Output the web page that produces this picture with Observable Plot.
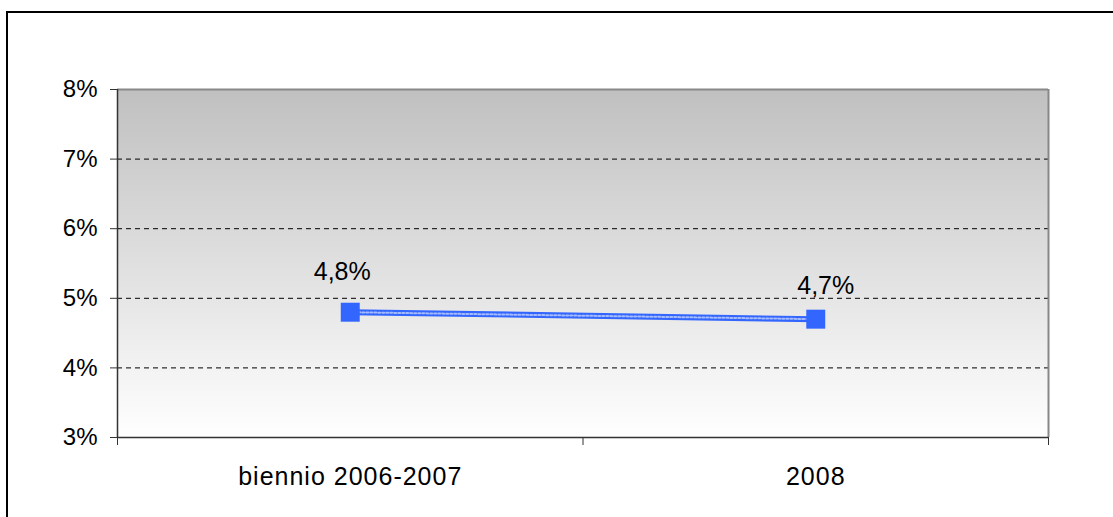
<!DOCTYPE html>
<html><head>
<meta charset="utf-8">
<script src="https://cdn.jsdelivr.net/npm/d3@7"></script>
<script src="https://cdn.jsdelivr.net/npm/@observablehq/plot@0.6"></script>
<style>
html,body{margin:0;padding:0;overflow:hidden;background:#fff;width:1113px;height:517px}
#wrap{position:relative;width:1113px;height:517px}
#chart{position:absolute;left:0;top:0}
#border{position:absolute;left:6px;top:11px;width:1200px;height:600px;border-left:2px solid #000;border-top:2px solid #000;z-index:2;pointer-events:none}
</style></head><body>
<div id="wrap"><div id="chart"></div><div id="border"></div></div>
<script>
const categories = ["biennio 2006-2007", "2008"];
const values = [4.8, 4.7];
const valueLabels = ["4,8%", "4,7%"];
const yTicks = [3, 4, 5, 6, 7, 8];
const gridTicks = [4, 5, 6, 7];
const boundaries = [0, 1, 2];

const data = categories.map((c, i) => ({pos: i + 0.5, cat: c, v: values[i], label: valueLabels[i]}));

const blue = "#3366ff";
const svg = Plot.plot({
  width: 1113,
  height: 517,
  marginLeft: 117,
  marginRight: 65,
  marginTop: 89,
  marginBottom: 80,
  style: {fontFamily: "'Liberation Sans', Arial, sans-serif", fontSize: "24px", color: "#000", background: "transparent"},
  x: {domain: [0, 2], label: null},
  y: {domain: [3, 8], label: null},
  marks: [
    Plot.frame({fill: "url(#bg)", stroke: "none"}),
    Plot.ruleY(gridTicks, {stroke: "#000", strokeWidth: 1, strokeDasharray: "5,4"}),
    Plot.ruleY([8], {stroke: "#888", strokeWidth: 2}),
    Plot.ruleX([2], {stroke: "#888", strokeWidth: 2}),
    Plot.ruleX([0], {stroke: "#333", strokeWidth: 1.5}),
    Plot.ruleY([3], {stroke: "#333", strokeWidth: 1.5}),
    Plot.axisY(yTicks, {tickSize: 7, tickPadding: 13, tickFormat: d => d + "%", stroke: "#333", fontSize: 24, label: null}),
    Plot.axisX(boundaries, {tickSize: 8, tickFormat: () => "", stroke: "#333", label: null}),
    Plot.axisX(data.map(d => d.pos), {tickSize: 0, tickPadding: 30, tickFormat: p => categories[Math.floor(p)], fontSize: 25, label: null}),
    Plot.line(data, {x: "pos", y: "v", stroke: blue, strokeWidth: 6}),
    Plot.line(data, {x: "pos", y: "v", stroke: "#fff", strokeWidth: 2, strokeDasharray: "2,2", strokeOpacity: 0.55}),
    Plot.dot(data, {x: "pos", y: "v", symbol: "square", r: 10.7, fill: blue, stroke: "none"}),
    Plot.text([data[0]], {x: "pos", y: "v", text: "label", lineAnchor: "bottom", dy: -32, dx: -8, fontSize: 25}),
    Plot.text([data[1]], {x: "pos", y: "v", text: "label", lineAnchor: "bottom", dy: -25, dx: 10, fontSize: 25})
  ]
});
d3.select(svg).insert("defs", ":first-child").html(
  '<linearGradient id="bg" x1="0" y1="0" x2="0" y2="1"><stop offset="0" stop-color="#c0c0c0"/><stop offset="1" stop-color="#ffffff"/></linearGradient>'
);
d3.select(svg).selectAll("g[aria-label='x-axis tick label'] text").style("letter-spacing", "1px");
document.getElementById("chart").appendChild(svg);
</script>
</body></html>
